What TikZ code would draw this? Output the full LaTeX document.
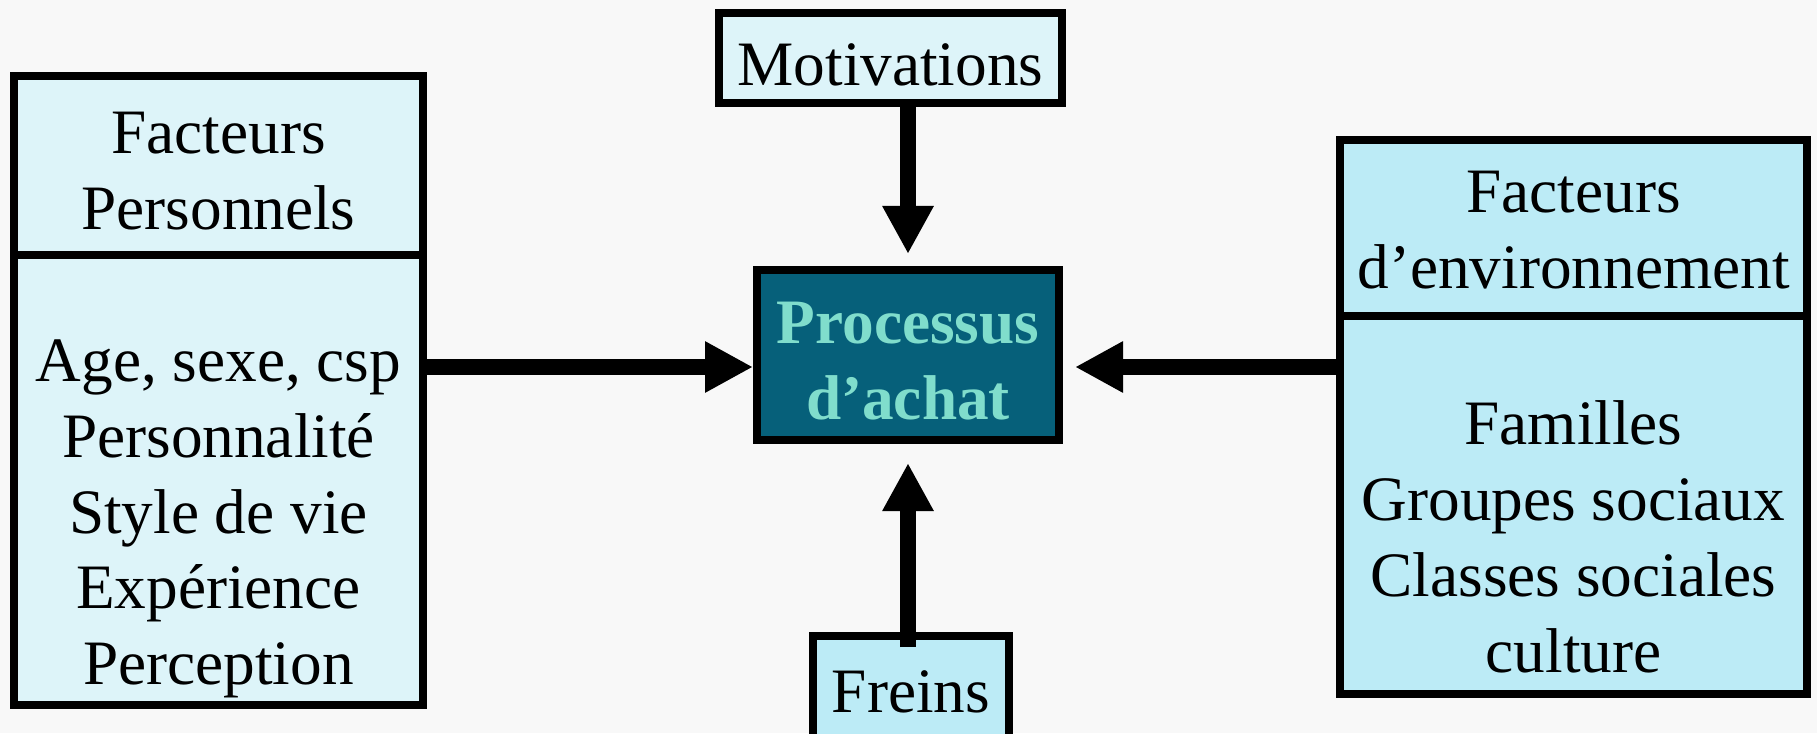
\documentclass[tikz,border=0pt]{standalone}
\usepackage{fontspec}
\setmainfont{Liberation Serif}
\usetikzlibrary{arrows.meta}

\definecolor{bgpage}{HTML}{F8F8F8}
\definecolor{paleblue}{HTML}{DDF4F9}
\definecolor{skyblue}{HTML}{BCEBF6}
\definecolor{tealdark}{HTML}{06607A}
\definecolor{aqua}{HTML}{80DDCC}

\tikzset{
  box/.style={draw, line width=2.2pt, inner sep=0pt, outer sep=0pt, align=center,
    font=\fontsize{18}{21.6}\selectfont},
  flow/.style={line width=4.5pt, -{Triangle[length=4.8mm,width=4.8mm]}},
}

\begin{document}
\begin{tikzpicture}

    % Background
    \fill[bgpage] (0,0) rectangle (18.17,7.33);
    \useasboundingbox (0,0) rectangle (18.17,7.33);

    % Personal factors (left)
    \node[box, fill=paleblue, minimum width=4.09cm, minimum height=1.79cm] (persHead) at (2.185,5.675)
      {\rule{0pt}{15pt}Facteurs\\Personnels};
    \node[box, fill=paleblue, minimum width=4.09cm, minimum height=4.50cm, anchor=north] (persBody) at (persHead.south)
      {\mbox{}\\[12.4pt]Age, sexe, csp\\Personnalité\\Style de vie\\Expérience\\Perception};

    % Environment factors (right)
    \node[box, fill=skyblue, minimum width=4.67cm, minimum height=1.76cm] (envHead) at (15.735,5.05)
      {\rule{0pt}{13pt}Facteurs\\d’environnement};
    \node[box, fill=skyblue, minimum width=4.67cm, minimum height=3.78cm, anchor=north] (envBody) at (envHead.south)
      {\mbox{}\\[9.2pt]Familles\\Groupes sociaux\\Classes sociales\\culture};

    % Centre
    \node[box, fill=tealdark, text=aqua, font=\fontsize{18}{21.6}\selectfont\bfseries,
      minimum width=3.02cm, minimum height=1.70cm] (proc) at (9.08,3.78) {\rule{0pt}{15pt}Processus\\d’achat};
    \node[box, fill=paleblue, minimum width=3.43cm, minimum height=0.90cm] (motiv) at (8.905,6.75)
      {\rule{0pt}{16pt}Motivations};
    \node[box, fill=skyblue, minimum width=1.96cm, minimum height=1.07cm] (freins) at (9.11,0.435)
      {\rule{0pt}{13pt}Freins};

    % Arrows
    \coordinate (mid) at ([yshift=-1.2mm]proc.west);
    \draw[flow, shorten >=1.6mm] (motiv.south -| proc.north) -- (proc.north);
    \draw[flow, shorten >=2.3mm] ([yshift=-1.1mm]freins.north -| proc.south) -- (proc.south);
    \draw[flow, shorten >=0.4mm] (persBody.east |- mid) -- (mid);
    \draw[flow, shorten >=1.6mm] (envBody.west |- mid) -- (proc.east |- mid);

\end{tikzpicture}
\end{document}
